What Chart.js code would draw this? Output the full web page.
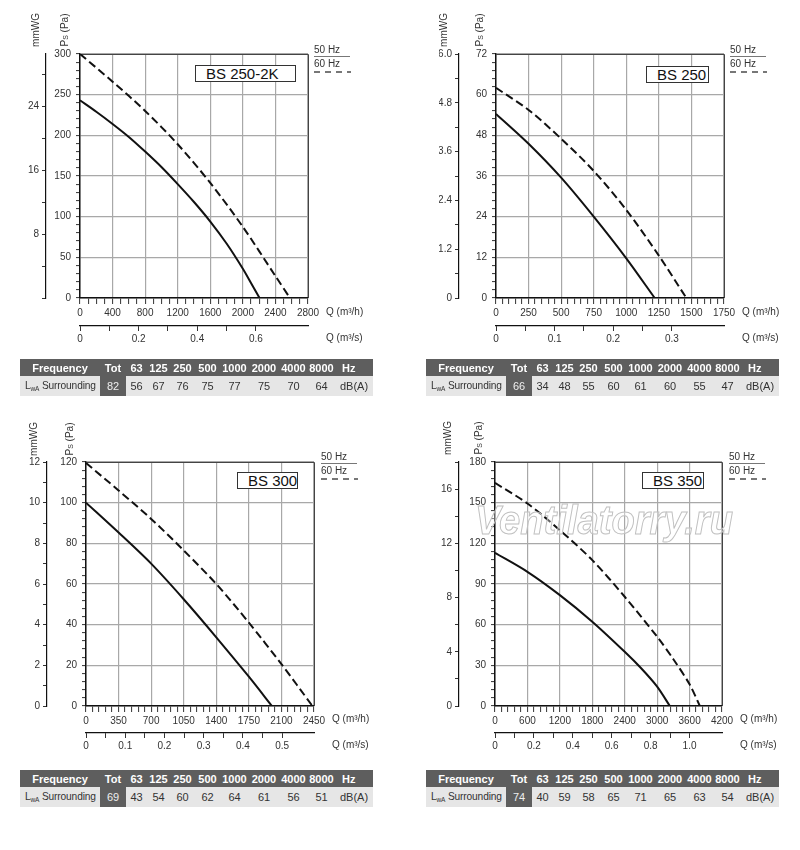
<!DOCTYPE html>
<html><head><meta charset="utf-8">
<script src="https://cdn.jsdelivr.net/npm/chart.js@4.4.1/dist/chart.umd.min.js"></script>
<style>
html,body{margin:0;padding:0;background:#fff;}
body{width:800px;height:850px;position:relative;overflow:hidden;font-family:"Liberation Sans",Arial,Helvetica,sans-serif;color:#222;}
canvas.cv{position:absolute;width:400px;height:360px;}
.lab{position:absolute;font-size:10px;line-height:10px;white-space:nowrap;color:#333;}
.rot{transform:translate(-50%,-50%) rotate(-90deg);}
.box{position:absolute;border:1px solid #333;background:#fff;font-size:15px;box-sizing:border-box;padding-left:10px;white-space:nowrap;color:#111;}
.ln{position:absolute;height:1px;background:#777;}
.dl{position:absolute;height:1.5px;background:repeating-linear-gradient(to right,#777 0 6px,transparent 6px 11px);}
table.fr{position:absolute;border-collapse:collapse;table-layout:fixed;font-size:11px;}
table.fr td{padding:0;text-align:center;white-space:nowrap;overflow:visible;}
table.fr tr.h td{background:#5e5e5e;color:#fff;font-weight:bold;height:17px;}
table.fr tr.d td{background:#e6e6e6;color:#333;height:20px;}
table.fr tr.d td.tot{background:#5e5e5e;color:#eee;}
table.fr tr.d td.lw{text-align:left;padding-left:5px;font-size:10.2px;letter-spacing:-0.15px;}
sub{font-size:6.5px;vertical-align:-2px;}
.wm{position:absolute;font-size:40px;font-weight:bold;font-style:italic;color:rgba(255,255,255,0.35);-webkit-text-stroke:1px #c0c0c0;white-space:nowrap;transform-origin:left top;}
</style></head>
<body>
<canvas id="c0" class="cv" width="400" height="360" style="left:0;top:0"></canvas>
<canvas id="c1" class="cv" width="400" height="360" style="left:400px;top:0"></canvas>
<canvas id="c2" class="cv" width="400" height="360" style="left:0;top:408px"></canvas>
<canvas id="c3" class="cv" width="400" height="360" style="left:400px;top:408px"></canvas>
<script>
// ---------- DATA ----------
const models = ['BS 250-2K', 'BS 250', 'BS 300', 'BS 350'];

// BS 250-2K
const q50_a = [0, 200, 400, 600, 800, 1000, 1200, 1400, 1600, 1800, 2000, 2100, 2205];
const p50_a = [243, 229, 214, 198, 180, 161, 140, 118, 94, 67, 36, 18.5, 0];
const q60_a = [0, 400, 800, 1200, 1600, 2000, 2400, 2578];
const p60_a = [300, 266, 230, 189, 141.5, 87.5, 27, 0];
// BS 250
const q50_b = [0, 250, 500, 750, 1000, 1218];
const p50_b = [54.3, 45.5, 35.5, 24, 11.7, 0];
const q60_b = [0, 250, 500, 750, 1000, 1250, 1461];
const p60_b = [62, 55.5, 47, 37.5, 26, 12.5, 0];
// BS 300
const q50_c = [0, 350, 700, 1050, 1400, 1750, 1998];
const p50_c = [100, 85.3, 70, 52.5, 33.8, 14.4, 0];
const q60_c = [0, 350, 700, 1050, 1400, 1750, 2100, 2433];
const p60_c = [119.5, 106, 92, 76.5, 60, 41, 20.6, 0];
// BS 350
const q50_d = [0, 600, 1200, 1800, 2400, 2700, 3000, 3235];
const p50_d = [113, 99, 81.8, 62.2, 40, 28, 14.3, 0];
const q60_d = [0, 600, 1200, 1800, 2400, 3000, 3300, 3600, 3790];
const p60_d = [164.6, 149.4, 129.7, 107.6, 80.6, 51.1, 34.5, 16, 0];

// axis ranges / tick steps
const qMax   = [2800, 1750, 2450, 4200];
const qMajor = [400, 250, 350, 600];
const qMinor = [100, 50, 70, 120];
const pMax   = [300, 72, 120, 180];
const pMajor = [50, 12, 20, 30];
const pMinor = [10, 2.4, 4, 6];
const mMax   = [300 / 9.81, 6, 12, 18];
const mMajor = [8, 1.2, 2, 4];
const mMinor = [4, 0.6, 1, 2];
const sMax   = [0.7778, 0.389, 0.581, 1.167];
const sMajor = [0.2, 0.1, 0.1, 0.2];
const sMinor = [0.1, 0.05, 0.05, 0.1];

// sound table
const bands = ['63', '125', '250', '500', '1000', '2000', '4000', '8000'];
const lwaTot = [82, 66, 69, 74];
const lwa_a = [56, 67, 76, 75, 77, 75, 70, 64];
const lwa_b = [34, 48, 55, 60, 61, 60, 55, 47];
const lwa_c = [43, 54, 60, 62, 64, 61, 56, 51];
const lwa_d = [40, 59, 58, 65, 71, 65, 63, 54];

const curves = [
  [q50_a, p50_a, q60_a, p60_a],
  [q50_b, p50_b, q60_b, p60_b],
  [q50_c, p50_c, q60_c, p60_c],
  [q50_d, p50_d, q60_d, p60_d]
];
const lwa = [lwa_a, lwa_b, lwa_c, lwa_d];

// ---------- LAYOUT ----------
const geo = [
  {cx:0,   cy:0,   L:80,  T:54,  R:308, B:298, mm:46,  x2y:326},
  {cx:400, cy:0,   L:496, T:54,  R:724, B:298, mm:459, x2y:326},
  {cx:0,   cy:408, L:86,  T:462, R:314, B:706, mm:47,  x2y:733},
  {cx:400, cy:408, L:495, T:462, R:722, B:706, mm:459, x2y:733}
];
const mmTitle = [[36,30],[444,30],[34,439],[448,438]];
const psTitle = [[65,30],[480,30],[70,439],[479,438]];
const boxes = [[195,65,101,17],[646,66,63,17],[237,472,61,17],[642,472,62,17]];
const legendX = [314, 730, 321, 729];
const legendY = [50, 50, 457, 457];
const qLabX = [326, 742, 332, 740];
const qLabY = [312, 312, 719, 719];
const qsLabY = [338, 338, 745, 745];
const tablePos = [[20,359],[426,359],[20,770],[426,770]];

Chart.defaults.font.family = '"Liberation Sans", Arial, Helvetica, sans-serif';
Chart.defaults.font.size = 10;
Chart.defaults.color = '#333';

function isMul(v, m) { const r = v / m; return Math.abs(r - Math.round(r)) < 1e-6; }

const framePlugin = {
  id: 'frame',
  beforeDatasetsDraw(chart) {
    const a = chart.chartArea, c = chart.ctx;
    c.save(); c.strokeStyle = '#444'; c.lineWidth = 1;
    c.beginPath();
    c.moveTo(a.left, a.top + 0.5); c.lineTo(a.right + 0.5, a.top + 0.5); c.lineTo(a.right + 0.5, a.bottom);
    c.stroke(); c.restore();
  }
};

function fmt1(v) { return Math.abs(v) < 1e-9 ? '0' : v.toFixed(1); }

for (let i = 0; i < 4; i++) {
  const g = geo[i];
  const lx = g.L - g.cx, rx = g.R - g.cx, ty = g.T - g.cy, mmx = g.mm - g.cx, x2y = g.x2y - g.cy, by = g.B - g.cy;
  const [qa, pa, qb, pb] = curves[i];
  const y2w = 20;
  new Chart(document.getElementById('c' + i), {
    type: 'line',
    data: { datasets: [
      { data: qa.map((q, k) => ({x: q, y: pa[k]})), borderColor: '#111', borderWidth: 2, pointRadius: 0, tension: 0.3, fill: false },
      { data: qb.map((q, k) => ({x: q, y: pb[k]})), borderColor: '#111', borderWidth: 2, borderDash: [8, 4], pointRadius: 0, tension: 0.3, fill: false }
    ]},
    options: {
      responsive: false, animation: false, events: [],
      layout: { padding: { left: mmx - y2w, right: 400 - rx, top: ty, bottom: 360 - x2y - 20 } },
      plugins: { legend: {display: false}, tooltip: {enabled: false} },
      scales: {
        x: {
          type: 'linear', position: 'bottom', weight: 0, min: 0, max: qMax[i],
          ticks: { stepSize: qMinor[i], autoSkip: false, maxRotation: 0, minRotation: 0, padding: 3,
                   callback: v => isMul(v, qMajor[i]) ? String(Math.round(v)) : '' },
          grid: { color: c => (c.tick && isMul(c.tick.value, qMajor[i])) ? '#a8a8a8' : 'rgba(0,0,0,0)',
                  lineWidth: 1.2, tickLength: 6, tickColor: '#333', tickWidth: 1 },
          border: { color: '#111', width: 1.5 },
          afterFit: s => { s.height = x2y - by; }
        },
        x2: {
          type: 'linear', position: 'bottom', weight: 1, min: 0, max: sMax[i],
          ticks: { stepSize: sMinor[i], autoSkip: false, maxRotation: 0, minRotation: 0, padding: 2,
                   callback: v => isMul(v, sMajor[i]) ? fmt1(v) : '' },
          grid: { drawOnChartArea: false, tickLength: 5,
                  tickColor: c => (c.tick && isMul(c.tick.value, sMinor[i])) ? '#333' : 'rgba(0,0,0,0)', tickWidth: 1 },
          border: { color: '#111', width: 1.2 },
          afterFit: s => { s.height = 20; }
        },
        y: {
          type: 'linear', position: 'left', weight: 0, min: 0, max: pMax[i],
          ticks: { stepSize: pMinor[i], autoSkip: false, padding: 5,
                   callback: v => isMul(v, pMajor[i]) ? String(Math.round(v)) : '' },
          grid: { color: c => (c.tick && isMul(c.tick.value, pMajor[i])) ? '#a8a8a8' : 'rgba(0,0,0,0)',
                  lineWidth: 1.2, tickLength: 4, tickColor: '#333', tickWidth: 1 },
          border: { color: '#111', width: 1.5 },
          afterFit: s => { s.width = lx - mmx; }
        },
        y2: {
          type: 'linear', position: 'left', weight: 1, min: 0, max: mMax[i],
          ticks: { stepSize: mMinor[i], autoSkip: false, padding: 3,
                   callback: v => {
                     if (!isMul(v, mMajor[i])) return '';
                     if (i === 0 && Math.abs(v) < 1e-9) return '';
                     return i === 1 ? fmt1(v) : String(Math.round(v));
                   } },
          grid: { drawOnChartArea: false, tickLength: 4,
                  tickColor: c => (c.tick && isMul(c.tick.value, mMinor[i])) ? '#333' : 'rgba(0,0,0,0)', tickWidth: 1 },
          border: { color: '#111', width: 1.2 },
          afterFit: s => { s.width = y2w; }
        }
      }
    },
    plugins: [framePlugin]
  });
}

// ---------- HTML TEXT ----------
function add(html, cls, style) {
  const d = document.createElement('div');
  d.className = cls; d.innerHTML = html;
  Object.assign(d.style, style);
  document.body.appendChild(d);
  return d;
}
for (let i = 0; i < 4; i++) {
  add('mmWG', 'lab rot', {left: mmTitle[i][0] + 'px', top: mmTitle[i][1] + 'px'});
  add('P<span style="font-size:7px">S</span> (Pa)', 'lab rot', {left: psTitle[i][0] + 'px', top: psTitle[i][1] + 'px'});
  const b = boxes[i];
  add(models[i], 'box', {left: b[0] + 'px', top: b[1] + 'px', width: b[2] + 'px', height: b[3] + 'px', lineHeight: (b[3] - 2) + 'px'});
  const lx = legendX[i], ly = legendY[i];
  add('50 Hz', 'lab', {left: lx + 'px', top: (ly - 5) + 'px'});
  add('', 'ln', {left: lx + 'px', top: (ly + 6) + 'px', width: '36px'});
  add('60 Hz', 'lab', {left: lx + 'px', top: (ly + 9) + 'px'});
  add('', 'dl', {left: lx + 'px', top: (ly + 21) + 'px', width: '37px'});
  add('Q (m³/h)', 'lab', {left: qLabX[i] + 'px', top: (qLabY[i] - 5) + 'px'});
  add('Q (m³/s)', 'lab', {left: qLabX[i] + 'px', top: (qsLabY[i] - 5) + 'px'});

  // table
  const t = document.createElement('table');
  t.className = 'fr';
  t.style.left = tablePos[i][0] + 'px'; t.style.top = tablePos[i][1] + 'px';
  const widths = [80, 26, 21, 23, 25, 25, 29, 30, 29, 27, 38];
  let cg = '<colgroup>' + widths.map(w => '<col style="width:' + w + 'px">').join('') + '</colgroup>';
  let h = '<tr class="h"><td>Frequency</td><td>Tot</td>' + bands.map(x => '<td>' + x + '</td>').join('') +
          '<td style="text-align:left;padding-left:7px">Hz</td></tr>';
  let d = '<tr class="d"><td class="lw">L<sub>wA</sub> Surrounding</td><td class="tot">' + lwaTot[i] + '</td>' +
          lwa[i].map(x => '<td>' + x + '</td>').join('') + '<td>dB(A)</td></tr>';
  t.style.width = widths.reduce((a, b) => a + b, 0) + 'px';
  t.innerHTML = cg + h + d;
  document.body.appendChild(t);
}
// watermark
const wm = add('Ventilatorry.ru', 'wm', {left: '475px', top: '498px'});
const w = wm.getBoundingClientRect().width;
wm.style.transform = 'scaleX(' + (258 / w) + ')';
</script>
</body></html>
